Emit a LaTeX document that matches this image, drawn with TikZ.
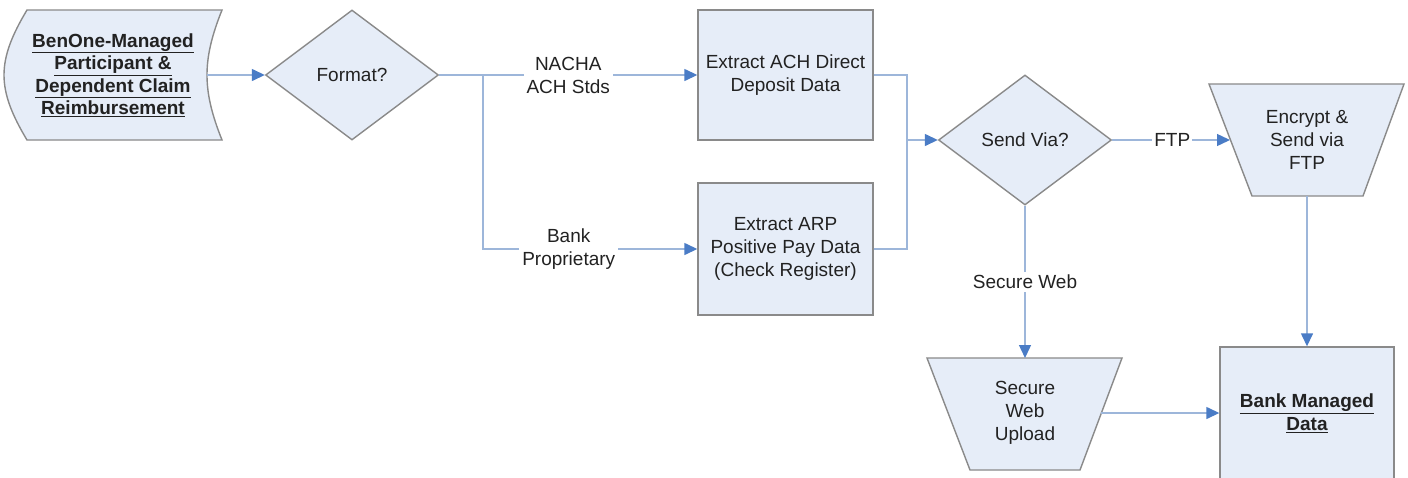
\documentclass[tikz,border=0pt]{standalone}
\usepackage{fontspec}
\setmainfont{Liberation Sans}
\usetikzlibrary{arrows.meta,shapes.geometric}
\definecolor{shapefill}{HTML}{E6EDF8}
\definecolor{shapeborder}{HTML}{8A8A8A}
\definecolor{linecol}{HTML}{9DB6DA}
\definecolor{tipcol}{HTML}{4A7CC6}
\definecolor{txt}{HTML}{222222}
\tikzset{
  x=1pt, y=-1pt,
  every node/.style={font=\fontsize{19}{23}\selectfont, text=txt},
  shp/.style={draw=shapeborder, fill=shapefill, line width=1.4pt},
  boxnode/.style={shp, rectangle, minimum width=175pt, minimum height=130pt, align=center, inner sep=0pt},
  dia/.style={shp, diamond, minimum width=173pt, minimum height=130pt, aspect=1.33, inner sep=0pt},
  txtnode/.style={align=center, inner sep=0pt},
  conn/.style={draw=linecol, line width=1.4pt, -{Triangle[length=13pt,width=12pt,color=tipcol]}},
  plain/.style={draw=linecol, line width=1.4pt},
  lbl/.style={fill=white, align=center, inner sep=3pt},
}
\begin{document}
\begin{tikzpicture}
\useasboundingbox (0,0) rectangle (1408,477);
\fill[white] (0,0) rectangle (1408,477);

% source (stored data shape)
\draw[shp] (27,10) -- (222,10)
  .. controls (212,35) and (207,55) .. (207,75)
  .. controls (207,95) and (212,115) .. (222,140)
  -- (27,140)
  .. controls (12,115) and (4,95) .. (4,75)
  .. controls (4,55) and (12,35) .. (27,10) -- cycle;
\node[txtnode, font=\fontsize{19}{22.5}\selectfont\bfseries] (src) at (113,75)
  {\underline{BenOne-Managed}\\\underline{Participant \&}\\\underline{Dependent Claim}\\\underline{Reimbursement}};
\coordinate (srcout) at (207,75);

% decision: Format?
\node[dia] (fmt) at (352,75) {Format?};

% extract boxes
\node[boxnode] (ach) at (785.5,75) {Extract ACH Direct\\Deposit Data};
\node[boxnode, minimum height=132pt] (arp) at (785.5,249) {Extract ARP\\Positive Pay Data\\(Check Register)};

% decision: Send Via?
\node[dia] (snd) at (1025,140) {Send Via?};

% trapezoid: Encrypt & Send via FTP
\draw[shp] (1209,84) -- (1404,84) -- (1363,196) -- (1252,196) -- cycle;
\node[txtnode] (enc) at (1307,140) {Encrypt \&\\Send via\\FTP};
\coordinate (encin) at (1230,140);
\coordinate (encout) at (1307,196);

% trapezoid: Secure Web Upload
\draw[shp] (927,358) -- (1122,358) -- (1080,470) -- (970,470) -- cycle;
\node[txtnode] (web) at (1025,413) {Secure\\Web\\Upload};
\coordinate (webin) at (1025,358);
\coordinate (webout) at (1101,413);

% bank managed data
\node[boxnode, minimum width=174pt, minimum height=132pt, font=\fontsize{19}{23}\selectfont\bfseries] (bank) at (1307,413)
  {\underline{Bank Managed}\\\underline{Data}};

% connectors
\draw[conn] (srcout) -- (fmt.west);
\coordinate (br) at (483,75);
\draw[conn] (fmt.east) -- node[lbl, pos=0.5] {NACHA\\ACH Stds} (ach.west);
\draw[conn] (br) -- (br |- arp.west) -- node[lbl, pos=0.4] {Bank\\Proprietary} (arp.west);
\coordinate (mrg) at (907,140);
\draw[plain] (ach.east) -- (907,75) -- (mrg);
\draw[plain] (arp.east) -- (907,249) -- (mrg);
\draw[conn] (mrg) -- (snd.west);
\draw[conn] (snd.east) -- node[lbl, inner sep=2pt, pos=0.51] {FTP} (encin);
\draw[conn] (snd.south) -- node[lbl, pos=0.5] {Secure Web} (webin);
\draw[conn] (encout) -- (bank.north);
\draw[conn] (webout) -- (bank.west);
\end{tikzpicture}
\end{document}
